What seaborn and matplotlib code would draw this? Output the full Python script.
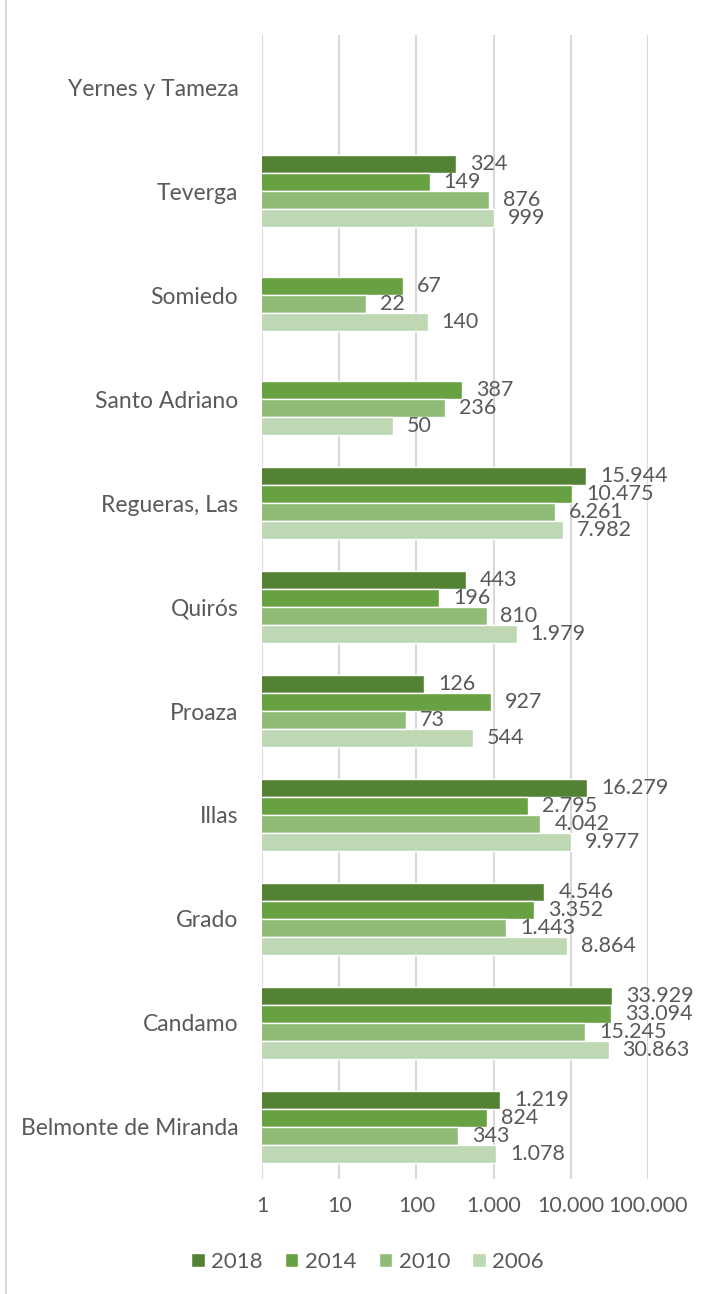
import numpy as np
import pandas as pd
import matplotlib
matplotlib.use("Agg")
import matplotlib.pyplot as plt
import seaborn as sns

# data, top to bottom as drawn
municipios = ["Yernes y Tameza", "Teverga", "Somiedo", "Santo Adriano", "Regueras, Las",
              "Quirós", "Proaza", "Illas", "Grado", "Candamo", "Belmonte de Miranda"]
years = ["2018", "2014", "2010", "2006"]
v2018 = [np.nan, 324, np.nan, np.nan, 15944, 443, 126, 16279, 4546, 33929, 1219]
v2014 = [np.nan, 149, 67, 387, 10475, 196, 927, 2795, 3352, 33094, 824]
v2010 = [np.nan, 876, 22, 236, 6261, 810, 73, 4042, 1443, 15245, 343]
v2006 = [np.nan, 999, 140, 50, 7982, 1979, 544, 9977, 8864, 30863, 1078]
xticks = [1, 10, 100, 1000, 10000, 100000]

colors = ["#548235", "#67A142", "#90BC78", "#BED8B3"]
text_color = "#595959"

df = pd.DataFrame({
    "municipio": municipios * 4,
    "year": sum([[y] * len(municipios) for y in years], []),
    "value": v2018 + v2014 + v2010 + v2006,
})

sns.set_theme(style="white")
plt.rcParams["font.family"] = ["Lato", "DejaVu Sans"]

def fmt(v):
    return f"{int(round(v)):,}".replace(",", ".")

fig = plt.figure(figsize=(7.07, 12.94), dpi=100)
ax = fig.add_axes([0.3706, 0.0889, 0.546, 0.884])

sns.barplot(data=df, y="municipio", x="value", hue="year", order=municipios,
            hue_order=years, palette=colors, orient="h", width=0.69,
            saturation=1, ax=ax, legend=True, errorbar=None)
ax.set_xscale("log")
ax.set_xlim(1, 100000)
ax.set_xticks(xticks)
ax.set_xticklabels([fmt(t) for t in xticks])
ax.minorticks_off()
ax.set_xlabel("")
ax.set_ylabel("")

# value labels at the bar ends
for c in ax.containers:
    labels = [fmt(w) if np.isfinite(w) and w > 0 else "" for w in c.datavalues]
    ax.bar_label(c, labels=labels, padding=10, fontsize=15.5, color=text_color)

ax.grid(axis="x", color="#D9D9D9", linewidth=1.5)
ax.set_axisbelow(True)
for s in ax.spines.values():
    s.set_visible(False)
ax.tick_params(axis="both", length=0, colors=text_color)
ax.tick_params(axis="y", pad=17, labelsize=16.5)
ax.tick_params(axis="x", pad=12, labelsize=15.5)

handles, labs = ax.get_legend_handles_labels()
ax.legend_.remove()
fig.legend(handles, labs, loc="center", bbox_to_anchor=(0.52, 0.025), ncol=4,
           frameon=False, fontsize=16, labelcolor=text_color, handlelength=0.6,
           handleheight=0.6, handletextpad=0.3, columnspacing=1.0)

# chart border on the left
fig.add_artist(plt.Line2D([0.009, 0.009], [0, 1], color="#D9D9D9", linewidth=1.5))

fig.savefig("out.png", dpi=100)
